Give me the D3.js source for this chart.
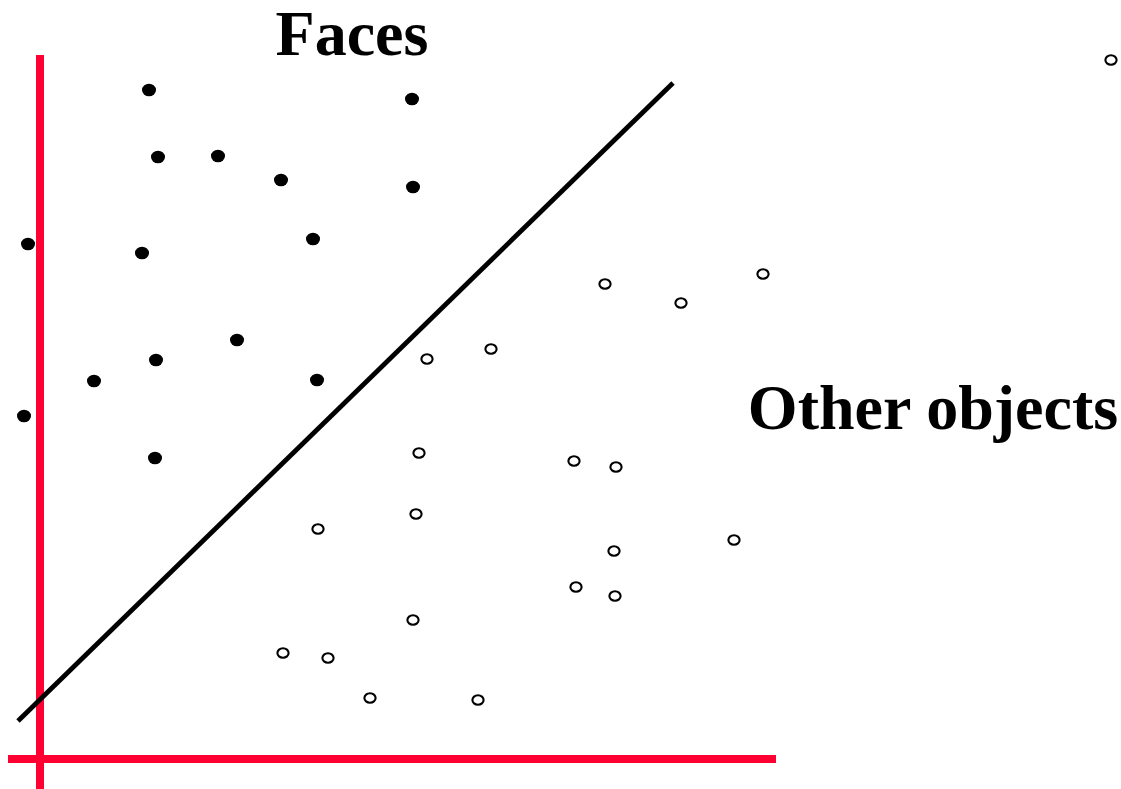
<!DOCTYPE html>
<html>
<head>
<meta charset="utf-8">
<script src="https://cdn.jsdelivr.net/npm/d3@7"></script>
<style>
html,body{margin:0;padding:0;background:#fff;overflow:hidden;}
svg{display:block;}
</style>
</head>
<body>
<svg id="chart" width="1121" height="789"></svg>
<script>
// Data (units relative to the red axes origin)
const facesX = [109, 372, 118, 178, 241, 373, -12, 102, 273, 197, 116, 54, 277, -16, 115];
const facesY = [669, 660, 602, 603, 579, 572, 515, 506, 520, 419, 399, 378, 379, 343, 301];
const otherX = [1071, 565, 641, 723, 387, 451, 379, 534, 576, 278, 376, 574, 694, 536, 575, 373, 243, 288, 330, 438];
const otherY = [699, 475, 456, 485, 400, 410, 306, 298, 292, 230, 245, 208, 219, 172, 163, 139, 106, 101, 61, 59];
const boundaryX = [-22, 633];
const boundaryY = [38, 676];
const labels = ["Faces", "Other objects"];

const svg = d3.select("#chart");
const x = d3.scaleLinear().domain([0, 736]).range([40, 776]);
const y = d3.scaleLinear().domain([0, 704]).range([759, 55]);

const red = "#ff0033";
// red axes
svg.append("line").attr("x1", x(0)).attr("x2", x(0)).attr("y1", y(704)).attr("y2", 789)
  .attr("stroke", red).attr("stroke-width", 8);
svg.append("line").attr("x1", x(-32)).attr("x2", x(736)).attr("y1", y(0)).attr("y2", y(0))
  .attr("stroke", red).attr("stroke-width", 8);

// decision boundary
svg.append("line")
  .attr("x1", x(boundaryX[0])).attr("y1", y(boundaryY[0]))
  .attr("x2", x(boundaryX[1])).attr("y2", y(boundaryY[1]))
  .attr("stroke", "#000").attr("stroke-width", 4.8);

// faces: filled dots
svg.append("g").selectAll("ellipse").data(d3.range(facesX.length)).join("ellipse")
  .attr("cx", i => x(facesX[i])).attr("cy", i => y(facesY[i]))
  .attr("rx", 7).attr("ry", 6.3).attr("fill", "#000");

// other objects: open circles
svg.append("g").selectAll("ellipse").data(d3.range(otherX.length)).join("ellipse")
  .attr("cx", i => x(otherX[i])).attr("cy", i => y(otherY[i]))
  .attr("rx", 5.6).attr("ry", 4.8).attr("fill", "#fff")
  .attr("stroke", "#000").attr("stroke-width", 2.1);

// labels
svg.append("text").attr("x", 352).attr("y", 55).attr("text-anchor", "middle")
  .attr("font-family", "'Liberation Serif','Times New Roman',serif").attr("font-weight", "bold")
  .attr("font-size", 64).text(labels[0]);
svg.append("text").attr("x", 933).attr("y", 429).attr("text-anchor", "middle")
  .attr("font-family", "'Liberation Serif','Times New Roman',serif").attr("font-weight", "bold")
  .attr("font-size", 64).text(labels[1]);
</script>
</body>
</html>
